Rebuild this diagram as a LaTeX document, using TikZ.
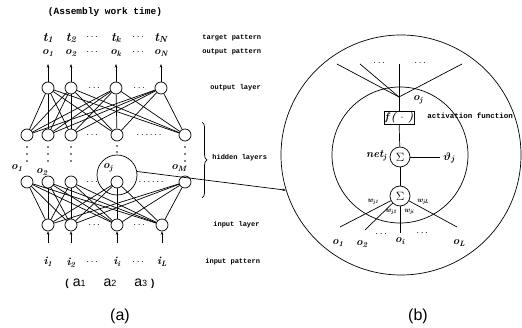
\documentclass[tikz,border=0pt]{standalone}
\usepackage{amsmath}
\usepackage{fontspec}
\newfontfamily\lblfont{Liberation Mono}
\setsansfont{Liberation Sans}
\usetikzlibrary{arrows.meta,decorations.pathreplacing}
\begin{document}
\begin{tikzpicture}[x=1pt,y=-1pt,line width=0.7pt,
  neuron/.style={circle,draw,minimum size=12pt,inner sep=0pt},
  lbl/.style={font=\lblfont\bfseries\fontsize{7}{8}\selectfont,anchor=west,inner sep=0pt},
  var/.style={font=\bfseries\itshape\fontsize{12.5}{13}\selectfont,inner sep=0pt},
  svar/.style={font=\bfseries\itshape\fontsize{11}{12}\selectfont,inner sep=0pt},
  wvar/.style={font=\bfseries\itshape\fontsize{7.5}{8}\selectfont,inner sep=0pt},
  dotsx/.style={font=\bfseries\fontsize{10}{11}\selectfont,inner sep=0pt},
  arr/.style={-{Stealth[length=3.5pt,width=2.5pt]}},
  sig/.style={circle,draw,minimum size=20pt,inner sep=0pt}]
\useasboundingbox (0,0) rectangle (522,328);

% ---------- (a) ----------
\node[font=\lblfont\bfseries\fontsize{9.5}{10}\selectfont,inner sep=0pt] (title) at (105,12) {(Assembly work time)};

% target and output pattern
\node[var] (t1) at (48,38) {t\textsubscript{1}};
\node[var] (t2) at (71,38) {t\textsubscript{2}};
\node[var] (tk) at (116,38) {t\textsubscript{k}};
\node[var] (tN) at (161,38) {t\textsubscript{N}};
\node[dotsx] (td1) at (93,37) {$\cdots$};
\node[dotsx] (td2) at (139,37) {$\cdots$};
\node[svar] (po1) at (48,53) {o\textsubscript{1}};
\node[svar] (po2) at (71,53) {o\textsubscript{2}};
\node[svar] (pok) at (116,53) {o\textsubscript{k}};
\node[svar] (poN) at (161,53) {o\textsubscript{N}};
\node[dotsx] (pd1) at (93,52) {$\cdots$};
\node[dotsx] (pd2) at (139,52) {$\cdots$};

% output layer
\foreach \n/\x in {y1/48,y2/71,yk/116,yN/161}
  \node[neuron] (\n) at (\x,88) {};
\node[dotsx] (yd1) at (95,88) {$\cdots$};
\node[dotsx] (yd2) at (140,88) {$\cdots$};
\foreach \n/\x in {y1/48,y2/71,yk/116,yN/161}{
  \coordinate (\n up) at (\x,64);
  \draw[arr] (\n) -- (\n up);}

% hidden top
\foreach \n/\x in {ha/27,hb/48,hc/71,hd/117,he/185}
  \node[neuron] (\n) at (\x,135) {};
\node[dotsx] (hd1) at (93,135) {$\cdots$};
\node[dotsx] (hd2) at (150,135) {$\cdots\cdots$};

\foreach \a in {y1,y2,yk,yN}
  \foreach \b in {ha,hb,hc,hd,he}
    \draw (\a) -- (\b);

% hidden bottom
\foreach \n/\x in {ga/27,gb/48,gc/71,gd/117,ge/185}
  \node[neuron] (\n) at (\x,182) {};
\node[dotsx] (gd1) at (93,182) {$\cdots$};
\node[dotsx] (gd2) at (152,182) {$\cdots\cdots$};
\node[circle,draw,minimum size=40pt,inner sep=0pt] (focus) at (117,175) {};

% vertical dots
\foreach \x in {27,48,71,185}
  \foreach \y in {147,154,161}
    \fill (\x,\y) circle (0.8pt);
\foreach \y in {146,152}
  \fill (117,\y) circle (0.8pt);

\node[svar] (lo1) at (17,168) {o\textsubscript{1}};
\node[svar] (lo2) at (42,172) {o\textsubscript{2}};
\node[svar] (loj) at (108,168) {o\textsubscript{j}};
\node[svar] (loM) at (179,168) {o\textsubscript{M}};

% input layer
\foreach \n/\x in {x1/48,x2/71,xi/117,xL/162}
  \node[neuron] (\n) at (\x,225) {};
\node[dotsx] (xd1) at (95,225) {$\cdots$};
\node[dotsx] (xd2) at (140,225) {$\cdots$};

\foreach \a in {ga,gb,gc,gd,ge}
  \foreach \b in {x1,x2,xi,xL}
    \draw (\a) -- (\b);

\foreach \n/\x in {x1/48,x2/71,xi/117,xL/162}{
  \coordinate (\n dn) at (\x,243);
  \draw[arr] (\n dn) -- (\n);}

\node[svar] (i1) at (48,262) {i\textsubscript{1}};
\node[svar] (i2) at (71,263) {i\textsubscript{2}};
\node[svar] (ii) at (117,262) {i\textsubscript{i}};
\node[svar] (iL) at (162,262) {i\textsubscript{L}};
\node[dotsx] (id1) at (93,262) {$\cdots$};
\node[dotsx] (id2) at (139,262) {$\cdots$};

\node[font=\sffamily\fontsize{14}{15}\selectfont,inner sep=0pt] (aset) at (110,284)
  {{\bfseries\fontsize{10}{11}\selectfont(}\hspace{4pt}a{\fontsize{9}{10}\selectfont 1}\hspace{18pt}a{\fontsize{9}{10}\selectfont 2}\hspace{18pt}a{\fontsize{9}{10}\selectfont 3}\hspace{4pt}{\bfseries\fontsize{10}{11}\selectfont)}};
\node[font=\sffamily\fontsize{16}{17}\selectfont,inner sep=0pt] (capa) at (120,316) {(a)};

% labels on the right
\node[lbl] (Ltp) at (202,38) {target pattern};
\node[lbl] (Lop) at (202,52) {output pattern};
\node[lbl] (Lol) at (210,88) {output layer};
\node[lbl] (Lhl) at (212,158) {hidden layers};
\node[lbl] (Lil) at (213,225) {input layer};
\node[lbl] (Lip) at (205,262) {input pattern};

\draw[decorate,decoration={brace,amplitude=5pt}]
  (202,122) -- (202,198);

% ---------- (b) ----------
\node[circle,draw,minimum size=240pt,inner sep=0pt] (big) at (401,155) {};
\node[circle,draw,minimum size=136pt,inner sep=0pt] (inner) at (400,155) {};

\draw[arr] (focus.10) -- (big.180+17);

\coordinate (oj) at (399,97);
\coordinate (e1) at (337,64);
\coordinate (e2) at (360,64);
\coordinate (e3) at (399,64);
\coordinate (e4) at (462,64);
\foreach \e in {e1,e2,e3,e4} \draw (oj) -- (\e);
\node[dotsx] (rd1) at (380,63) {$\cdots$};
\node[dotsx] (rd2) at (421,63) {$\cdots$};
\node[svar] (ojl) at (418,100) {o\textsubscript{j}};

\node[draw,minimum width=30pt,minimum height=13pt,inner sep=0pt,font=\bfseries\itshape\fontsize{11}{12}\selectfont] (fbox) at (399,118) {f\,( $\cdot$ )};
\node[lbl,font=\lblfont\bfseries\fontsize{7.5}{8}\selectfont] (Laf) at (427,116) {activation function};

\node[sig,font=\fontsize{12}{13}\selectfont] (s1) at (400,157) {$\Sigma$};
\node[sig,font=\fontsize{12}{13}\selectfont] (s2) at (400,196) {$\Sigma$};
\draw (oj) -- (fbox);
\draw (fbox) -- (s1);
\draw (s1) -- (s2);
\coordinate (th) at (440,157);
\draw (s1) -- (th);
\node[svar,anchor=west] (thl) at (443,158) {$\boldsymbol{\vartheta}_{\boldsymbol j}$};
\node[svar,anchor=east] (net) at (387,156) {net\textsubscript{j}};

\coordinate (b1) at (340,227);
\coordinate (b2) at (365,230);
\coordinate (b3) at (400,233);
\coordinate (b4) at (457,227);
\foreach \b in {b1,b2,b3,b4} \draw (s2) -- (\b);
\node[svar] (ro1) at (338,243) {o\textsubscript{1}};
\node[svar] (ro2) at (362,244) {o\textsubscript{2}};
\node[svar] (roi) at (400,241) {o\textsubscript{i}};
\node[svar] (roL) at (459,243) {o\textsubscript{L}};
\node[dotsx] (rb1) at (382,234) {$\cdots$};
\node[dotsx] (rb2) at (423,233) {$\cdots$};

\node[wvar] (w1) at (373,202) {w\textsubscript{j1}};
\node[wvar] (wL) at (423,202) {w\textsubscript{jL}};
\node[wvar] (w2) at (391,212) {w\textsubscript{j2}};
\node[wvar] (wi) at (409,212) {w\textsubscript{ji}};

\node[font=\sffamily\fontsize{16}{17}\selectfont,inner sep=0pt] (capb) at (418,316) {(b)};
\end{tikzpicture}
\end{document}
